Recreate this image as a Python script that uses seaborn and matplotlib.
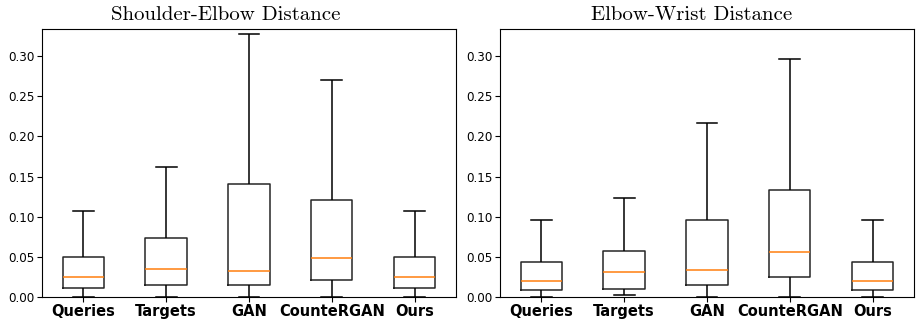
import numpy as np
import pandas as pd
import matplotlib
matplotlib.use("Agg")
import matplotlib.pyplot as plt
import seaborn as sns

methods = ["Queries", "Targets", "GAN", "CounteRGAN", "Ours"]

# Shoulder-Elbow Distance: whisker low, Q1, median, Q3, whisker high
se_lo = [0.0, 0.0, 0.0, 0.0, 0.0]
se_q1 = [0.0108, 0.0146, 0.0150, 0.0208, 0.0108]
se_med = [0.0245, 0.0341, 0.0325, 0.0487, 0.0245]
se_q3 = [0.0495, 0.0736, 0.1402, 0.1207, 0.0495]
se_hi = [0.1073, 0.1623, 0.3279, 0.2709, 0.1073]

# Elbow-Wrist Distance
ew_lo = [0.0, 0.0017, 0.0, 0.0, 0.0]
ew_q1 = [0.0087, 0.0096, 0.0141, 0.0241, 0.0087]
ew_med = [0.0200, 0.0308, 0.0329, 0.0553, 0.0200]
ew_q3 = [0.0433, 0.0574, 0.0957, 0.1327, 0.0433]
ew_hi = [0.0957, 0.1236, 0.2172, 0.2967, 0.0957]

titles = ["Shoulder-Elbow Distance", "Elbow-Wrist Distance"]
title_x = [0.444, 0.464]
yticks = [0.00, 0.05, 0.10, 0.15, 0.20, 0.25, 0.30]


def make_frame(lo, q1, med, q3, hi):
    rows = []
    for m, a, b, c, d, e in zip(methods, lo, q1, med, q3, hi):
        for v in (a, b, c, d, e):
            rows.append({"method": m, "value": v})
    return pd.DataFrame(rows)


frames = [make_frame(se_lo, se_q1, se_med, se_q3, se_hi),
          make_frame(ew_lo, ew_q1, ew_med, ew_q3, ew_hi)]

plt.rcParams["font.family"] = ["DejaVu Sans"]
plt.rcParams["font.sans-serif"] = ["DejaVu Sans"]

fig, axes = plt.subplots(1, 2, figsize=(9.17, 3.22), dpi=100)
fig.subplots_adjust(left=0.0458, right=0.9967, bottom=0.0786, top=0.9109, wspace=0.1063)

for ax, df, title, tx in zip(axes, frames, titles, title_x):
    sns.boxplot(data=df, x="method", y="value", ax=ax, whis=(0, 100),
                width=0.5, fill=False, color="black", linewidth=1.1,
                medianprops=dict(color="#ff7f0e", linewidth=1.1),
                boxprops=dict(color="#262626"),
                whiskerprops=dict(color="black"),
                capprops=dict(color="black"),
                showfliers=False)
    ax.set_ylim(0, 0.3345)
    ax.set_xlim(-0.5, 4.5)
    ax.set_yticks(yticks)
    ax.set_yticklabels([f"{t:.2f}" for t in yticks], fontsize=8.6,
                       family="DejaVu Sans")
    ax.set_xticks(range(len(methods)))
    ax.set_xticklabels(methods, fontsize=10.5, fontweight="bold",
                       family="DejaVu Sans")
    ax.tick_params(axis="both", length=3.5, width=0.8, pad=2, colors="black")
    ax.set_xlabel("")
    ax.set_ylabel("")
    for s in ax.spines.values():
        s.set_visible(True)
        s.set_color("black")
        s.set_linewidth(0.8)
    t = ax.set_title(title, family="cmr10", fontsize=15, pad=6.3)
    t.set_x(tx)

fig.savefig("out.png", dpi=100)
